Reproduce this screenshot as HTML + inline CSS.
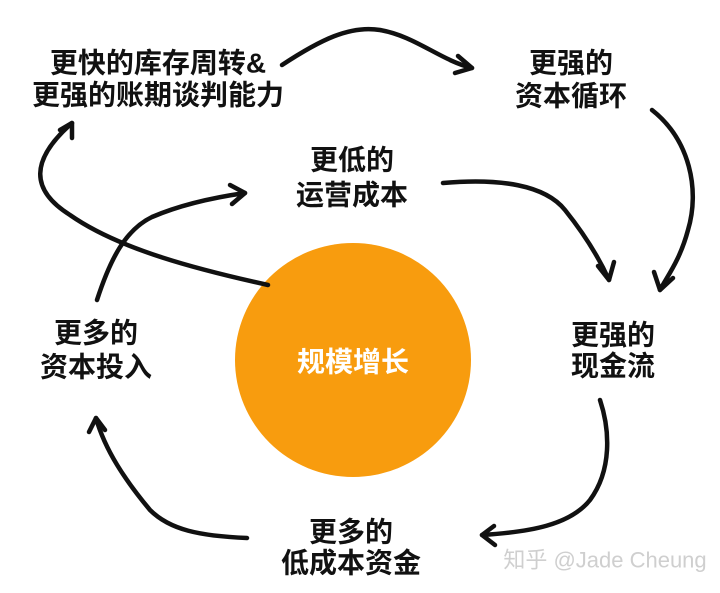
<!DOCTYPE html>
<html><head><meta charset="utf-8"><style>
html,body{margin:0;padding:0;background:#fff;}
svg{display:block;}
text{font-family:"Liberation Sans","Noto Sans CJK SC",sans-serif;font-weight:bold;fill:#111;text-anchor:middle;dominant-baseline:central;font-size:28px;}
</style></head><body>
<svg width="720" height="593" viewBox="0 0 720 593">
<defs>
<marker id="a" markerWidth="10" markerHeight="10" refX="7" refY="5" orient="auto" markerUnits="userSpaceOnUse" viewBox="0 0 10 10">
</marker>
</defs>
<ellipse cx="353" cy="360" rx="118" ry="117" fill="#f89c0e"/>
<text x="353" y="362" style="fill:#fff;font-size:28px">规模增长</text>

<text x="158" y="63">更快的库存周转&amp;</text>
<text x="158" y="95">更强的账期谈判能力</text>
<text x="571" y="63">更强的</text>
<text x="571" y="96">资本循环</text>
<text x="352" y="160">更低的</text>
<text x="352" y="195">运营成本</text>
<text x="96" y="333">更多的</text>
<text x="96" y="367">资本投入</text>
<text x="613" y="335">更强的</text>
<text x="613" y="366">现金流</text>
<text x="351" y="532">更多的</text>
<text x="351" y="563">低成本资金</text>
<text x="605" y="560" style="fill:#cfcfcf;font-size:22px;font-weight:normal">知乎 @Jade Cheung</text>

<g fill="none" stroke="#111" stroke-width="4.5" stroke-linecap="round" stroke-linejoin="round">
<!-- top -->
<path d="M282 65 C320 40 350 25 380 30 C415 36 440 60 472 68"/>
<path d="M458 56 L472 68 L455 73"/>
<!-- right top -->
<path d="M652 110 C690 140 700 190 688 230 C680 260 668 275 660 290"/>
<path d="M654 272 L660 290 L673 278"/>
<!-- middle -->
<path d="M443 183 C500 178 545 185 565 210 C585 235 600 260 609 280"/>
<path d="M598 266 L609 280 L614 262"/>
<!-- left long -->
<path d="M268 285 C200 270 120 250 70 215 C30 190 30 160 72 123"/>
<path d="M60 130 L72 123 L72 138"/>
<!-- to 运营成本 -->
<path d="M97 300 C110 260 125 230 152 217 C180 205 210 198 245 193"/>
<path d="M230 185 L245 193 L232 204"/>
<!-- right bottom -->
<path d="M600 400 C610 430 612 470 590 500 C570 525 530 532 482 535"/>
<path d="M494 526 L482 535 L495 545"/>
<!-- left bottom -->
<path d="M247 538 C200 536 170 530 150 510 C125 480 105 450 96 418"/>
<path d="M89 432 L96 418 L105 430"/>
</g>
</svg>
</body></html>
